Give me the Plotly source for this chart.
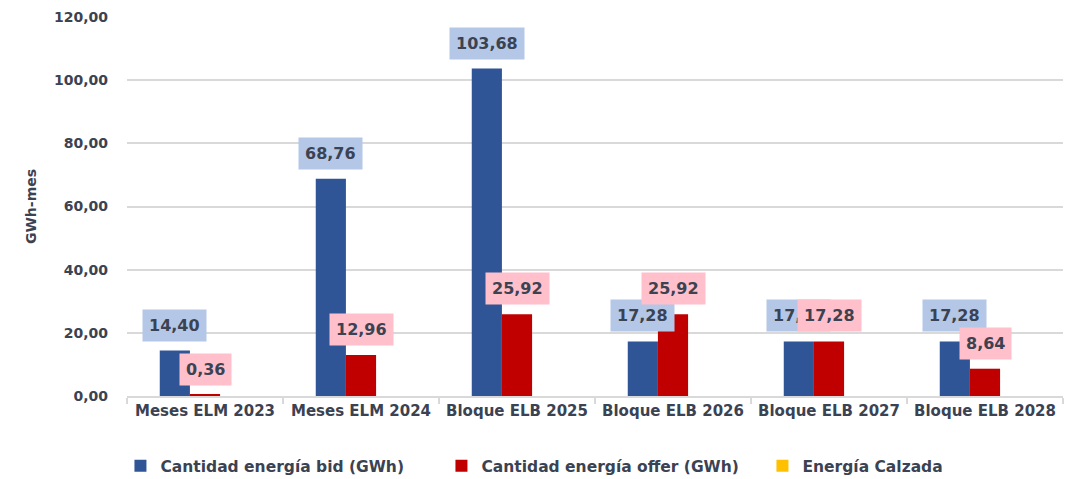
import plotly.graph_objects as go

categories = ["Meses ELM 2023", "Meses ELM 2024", "Bloque ELB 2025",
              "Bloque ELB 2026", "Bloque ELB 2027", "Bloque ELB 2028"]
bid = [14.40, 68.76, 103.68, 17.28, 17.28, 17.28]
offer = [0.36, 12.96, 25.92, 25.92, 17.28, 8.64]
calzada = [0, 0, 0, 0, 0, 0]

names = ["Cantidad energía bid (GWh)", "Cantidad energía offer (GWh)", "Energía Calzada"]
colors = ["#2F5597", "#C00000", "#FFC000"]
label_bg = ["#B4C7E7", "#FFC0CB"]
txt_color = "#3B4252"
FONT = "DejaVu Sans"

fig = go.Figure()
for vals, name, col in zip([bid, offer, calzada], names, colors):
    fig.add_trace(go.Bar(x=categories, y=vals, name=name, marker_color=col,
                         marker_line_width=0))

bargap = 0.42
bw = (1 - bargap) / 3
for s, vals in enumerate([bid, offer]):
    off = (s - 1) * bw
    for i, v in enumerate(vals):
        fig.add_annotation(x=i + off, y=v, xref="x", yref="y",
                           text=f"{v:.2f}".replace(".", ","),
                           showarrow=False, yanchor="bottom", yshift=9,
                           bgcolor=label_bg[s], borderpad=6,
                           font=dict(family=FONT, size=16, color=txt_color, weight="bold"))

fig.update_layout(
    width=1079, height=479,
    margin=dict(l=127, r=16, t=17, b=83, autoexpand=False),
    paper_bgcolor="white", plot_bgcolor="white",
    barmode="group", bargap=bargap, bargroupgap=0,
    separators=",.",
    font=dict(family=FONT, color=txt_color),
    legend=dict(orientation="h", x=-0.007, xanchor="left", y=-0.14, yanchor="top",
                font=dict(family=FONT, size=15.5, color=txt_color, weight="bold"),
                entrywidth=276, entrywidthmode="pixels", itemwidth=30),
    showlegend=True,
)
fig.update_yaxes(range=[0, 120], dtick=20, tickformat=".2f",
                 showgrid=True, gridcolor="#D9D9D9", gridwidth=1.5,
                 zeroline=False, showline=False, ticklabelstandoff=18,
                 automargin=False,
                 tickfont=dict(family=FONT, size=14, color=txt_color, weight="bold"),
                 title=dict(text="GWh-mes", standoff=14,
                            font=dict(family=FONT, size=14, color=txt_color, weight="bold")))
fig.update_xaxes(showline=True, linecolor="#D9D9D9", linewidth=1.5,
                 ticks="outside", tickson="boundaries", ticklen=6, tickcolor="#D9D9D9",
                 tickwidth=1.5, automargin=False,
                 tickfont=dict(family=FONT, size=15, color=txt_color, weight="bold"))

fig.write_html("out.html", config={"displayModeBar": False},
               post_script="document.body.style.margin='0';")
